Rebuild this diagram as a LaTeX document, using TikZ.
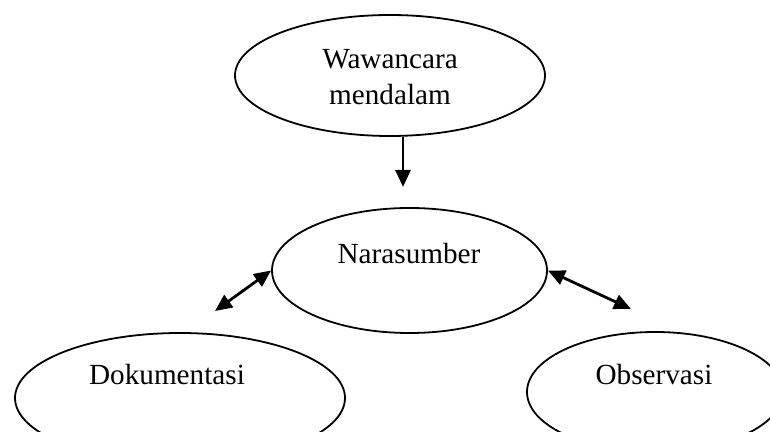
\documentclass[tikz,border=0pt]{standalone}
\usepackage{fontspec}
\setmainfont{Liberation Serif}
\usetikzlibrary{shapes.geometric,arrows.meta}
\begin{document}
\begin{tikzpicture}[x=0.5pt,y=-0.5pt,
  oval/.style={draw=black,line width=0.9pt,ellipse,inner sep=0pt},
  lbl/.style={inner sep=0pt,align=center,font=\fontsize{14.6}{18}\selectfont},
  tip/.style={Triangle[length=8.5pt,width=7.5pt]},
  arr/.style={line width=1.4pt,-{Triangle[length=8.5pt,width=7.5pt]}},
  darr/.style={line width=1.4pt,{Triangle[length=8.5pt,width=7.5pt]}-{Triangle[length=8.5pt,width=7.5pt]}}]
\useasboundingbox (0,0) rectangle (770,432);
\clip (0,0) rectangle (770,432);
\fill[white] (0,0) rectangle (770,432);
\node[oval,minimum width=155pt,minimum height=60.5pt] (top) at (390,75.5) {};
\node[oval,minimum width=137.5pt,minimum height=62.5pt] (mid) at (409.5,270.5) {};
\node[oval,minimum width=165pt,minimum height=65pt] (left) at (180,398) {};
\node[oval,minimum width=128pt,minimum height=60pt] (right) at (655,392) {};
\node[lbl] (ttop) at (390,77) {Wawancara\\mendalam};
\node[lbl] (tmid) at (409,254) {Narasumber};
\node[lbl] (tleft) at (167,375) {Dokumentasi};
\node[lbl] (tright) at (654,375) {Observasi};
\coordinate (d1) at (403,187);
\coordinate (d2) at (215,311);
\coordinate (d3) at (631,309);
\draw[arr] (top.south -| d1) -- (d1);
\draw[darr] (mid.west) -- (d2);
\draw[darr] (mid.east) -- (d3);
\end{tikzpicture}
\end{document}
